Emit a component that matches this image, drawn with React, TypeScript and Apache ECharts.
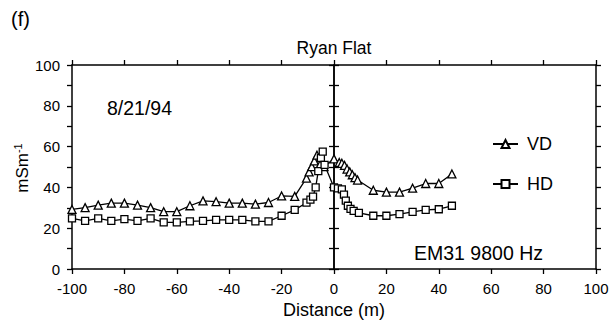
import React, { useEffect, useRef } from "react";
import * as echarts from "echarts";

const vdX = [-100, -95, -90, -85, -80, -75, -70, -65, -60, -55, -50, -45, -40, -35, -30, -25, -20, -15,
  -10.5, -9.5, -8.5, -7.5, -6.5, -5.3, -3.8, 0, 2, 3, 4, 5, 6, 7, 8, 9, 15, 20, 25, 30, 35, 40, 45];
const vdY = [29.2, 30.1, 31.3, 32.3, 32.3, 31.3, 30.1, 28.1, 28.1, 31, 33.4, 33, 32.3, 32.3, 31.8, 32.6, 35.8, 35.6,
  44.5, 47.6, 50.2, 53, 55.8, 51.3, 50.2, 54, 52.2, 51.8, 50.8, 49, 47.6, 46.2, 44.8, 43.6, 38.6, 37.7, 37.7, 39.6, 41.9, 41.9, 46.6];

const hdX = [-100, -95, -90, -85, -80, -75, -70, -65, -60, -55, -50, -45, -40, -35, -30, -25, -20, -15,
  -10.5, -9, -8, -7, -6, -5, -4.3, -3.6, 0, 1.5, 3, 3.8, 4.5, 5.3, 6.3, 7.5, 9.5, 15, 20, 25, 30, 35, 40, 45];
const hdY = [24.8, 23.6, 24.8, 23.6, 24.4, 23.6, 24.8, 22.9, 22.9, 23.3, 23.6, 24.1, 24.1, 24.1, 23.3, 23.3, 26.1, 29,
  32.5, 34, 35.5, 40, 48, 54.5, 57.5, 51, 40, 39.5, 39, 36.5, 33.5, 31, 29.5, 28.5, 27.5, 26.1, 26.1, 26.9, 28, 29, 29.3, 31];

const xTicks = { min: -100, max: 100, interval: 20 };
const yTicks = { min: 0, max: 100, interval: 10 };

const FONT = "Liberation Sans, Arial, Helvetica, sans-serif";

export default function App() {
  const ref = useRef<HTMLDivElement>(null);
  useEffect(() => {
    if (!ref.current) return;
    const chart = echarts.init(ref.current, null, { renderer: "svg" });
    const axisLine = { show: true, onZero: false, lineStyle: { color: "#000", width: 1.5 } };
    const tick = { show: true, length: 5, lineStyle: { color: "#000", width: 1.3 } };
    const vdData = vdX.map((x, i) => [x, vdY[i]]);
    const hdData = hdX.map((x, i) => [x, hdY[i]]);
    const lineSeries = (name: string, data: number[][], symbol: string, size: number) => ({
      name,
      type: "line",
      data,
      symbol,
      symbolSize: size,
      showAllSymbol: true,
      lineStyle: { color: "#000", width: 1.3 },
      itemStyle: { color: "#fff", borderColor: "#000", borderWidth: 1.3 },
      xAxisIndex: 0,
      yAxisIndex: 0,
      z: 5,
    });
    chart.setOption({
      animation: false,
      backgroundColor: "#fff",
      textStyle: { fontFamily: FONT, color: "#000" },
      grid: { left: 72, right: 18, top: 65, bottom: 57, containLabel: false, outerBoundsMode: "none" },
      xAxis: [
        {
          type: "value",
          position: "bottom",
          ...xTicks,
          axisLine,
          axisTick: tick,
          splitLine: { show: false },
          axisLabel: { color: "#000", fontSize: 15, fontFamily: FONT, margin: 12 },
          name: "Distance (m)",
          nameLocation: "middle",
          nameGap: 29,
          nameTextStyle: { color: "#000", fontSize: 18, fontFamily: FONT },
        },
        {
          type: "value",
          position: "top",
          ...xTicks,
          axisLine,
          axisTick: tick,
          splitLine: { show: false },
          axisLabel: { show: false },
        },
      ],
      yAxis: [
        {
          type: "value",
          position: "left",
          ...yTicks,
          axisLine,
          axisTick: tick,
          splitLine: { show: false },
          axisLabel: {
            color: "#000",
            fontSize: 15,
            fontFamily: FONT,
            margin: 12,
            formatter: (v: number) => (v % 20 === 0 ? String(v) : ""),
          },
        },
        {
          type: "value",
          position: "right",
          ...yTicks,
          axisLine,
          axisTick: tick,
          splitLine: { show: false },
          axisLabel: { show: false },
        },
        {
          type: "value",
          position: "left",
          ...yTicks,
          axisLine: { show: true, onZero: true, onZeroAxisIndex: 0, lineStyle: { color: "#000", width: 1.5 } },
          axisTick: { ...tick, inside: false },
          splitLine: { show: false },
          axisLabel: { show: false },
        },
        {
          type: "value",
          position: "left",
          ...yTicks,
          axisLine: { show: true, onZero: true, onZeroAxisIndex: 0, lineStyle: { color: "#000", width: 1.5 } },
          axisTick: { ...tick, inside: true },
          splitLine: { show: false },
          axisLabel: { show: false },
        },
      ],
      legend: {
        orient: "vertical",
        left: 487,
        top: 130,
        itemWidth: 25,
        itemHeight: 10,
        itemGap: 22,
        data: ["VD", "HD"],
        textStyle: { color: "#000", fontSize: 18, fontFamily: FONT, padding: [0, 0, 0, 4] },
      },
      series: [
        lineSeries("VD", vdData, "triangle", 8),
        lineSeries("HD", hdData, "rect", 7),
      ],
      graphic: [
        { type: "text", left: 11, top: 9, style: { text: "(f)", fontSize: 20, fontFamily: FONT, fill: "#000" } },
        { type: "text", x: 334, y: 48, style: { text: "Ryan Flat", fontSize: 17.5, fontFamily: FONT, fill: "#000", align: "center", verticalAlign: "middle" } },
        { type: "text", x: 107, y: 108, style: { text: "8/21/94", fontSize: 19.5, fontFamily: FONT, fill: "#000", align: "left", verticalAlign: "middle" } },
        { type: "text", x: 543, y: 253, style: { text: "EM31 9800 Hz", fontSize: 19.5, fontFamily: FONT, fill: "#000", align: "right", verticalAlign: "middle" } },
        {
          type: "text",
          x: 22,
          y: 168,
          rotation: Math.PI / 2,
          style: {
            text: "mSm{sup|-1}",
            fontSize: 17,
            fontFamily: FONT,
            fill: "#000",
            align: "center",
            verticalAlign: "middle",
            rich: { sup: { fontSize: 11, fontFamily: FONT, fill: "#000", verticalAlign: "top", padding: [0, 0, 8, 0] } },
          },
        },
      ],
    });
    return () => chart.dispose();
  }, []);
  return <div ref={ref} style={{ width: 614, height: 326, position: "fixed", left: 0, top: 0 }} />;
}
